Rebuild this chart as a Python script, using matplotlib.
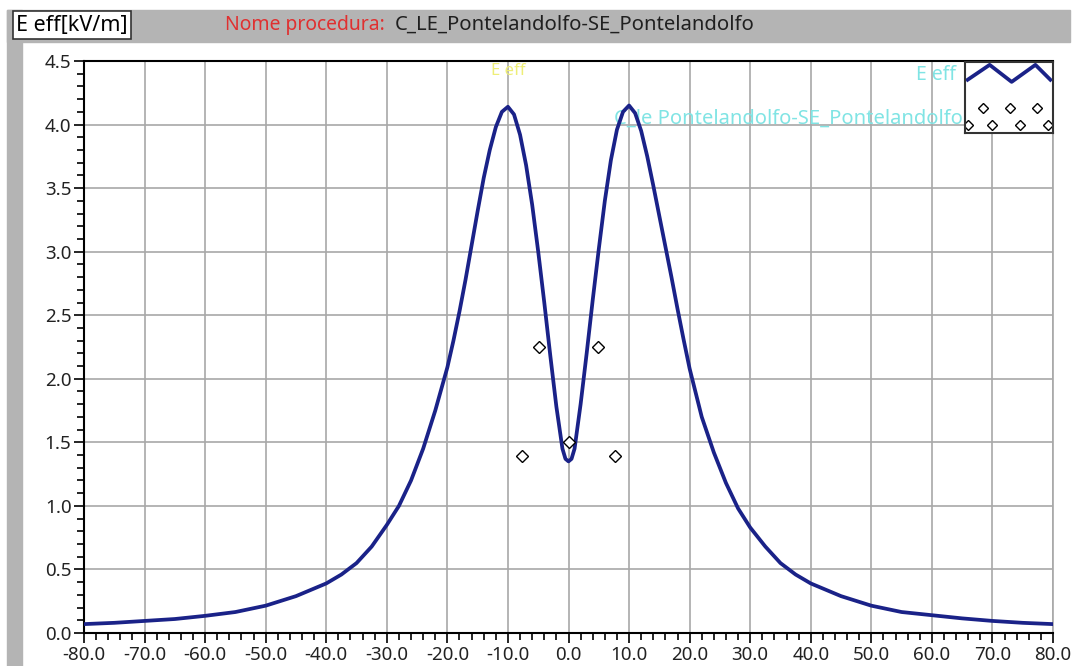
import matplotlib
matplotlib.use("Agg")
from matplotlib import pyplot as plt
from matplotlib.patches import Rectangle
from matplotlib.ticker import MultipleLocator, FormatStrFormatter

plt.rcParams['font.family'] = ['Noto Sans', 'DejaVu Sans']

# E eff curve (x in m, E in kV/m)
x_curve = [-80, -75, -70, -65, -60, -55, -50, -45, -40, -37.5, -35, -32.5, -30, -28, -26,
           -24, -22, -20, -19, -18, -17, -16, -15, -14, -13, -12, -11, -10, -9, -8, -7,
           -6, -5, -4, -3, -2, -1, -0.5, 0,
           0.5, 1, 2, 3, 4, 5, 6, 7, 8, 9, 10, 11, 12, 13, 14, 15, 16, 17, 18, 19, 20,
           22, 24, 26, 28, 30, 32.5, 35, 37.5, 40, 45, 50, 55, 60, 65, 70, 75, 80]
e_curve = [0.07, 0.08, 0.095, 0.11, 0.135, 0.165, 0.215, 0.29, 0.39, 0.46, 0.55, 0.68, 0.85, 1.00, 1.20,
           1.45, 1.75, 2.09, 2.30, 2.53, 2.78, 3.05, 3.32, 3.58, 3.80, 3.98, 4.10, 4.14, 4.08, 3.92, 3.68,
           3.37, 3.00, 2.60, 2.18, 1.78, 1.45, 1.37, 1.35,
           1.37, 1.45, 1.80, 2.20, 2.62, 3.02, 3.40, 3.72, 3.96, 4.10, 4.15, 4.09, 3.95, 3.75, 3.52, 3.28, 3.04, 2.80, 2.55, 2.31, 2.08,
           1.70, 1.42, 1.18, 0.98, 0.83, 0.68, 0.55, 0.46, 0.39, 0.29, 0.215, 0.165, 0.14, 0.115, 0.095, 0.08, 0.07]

# conductor positions (diamonds)
x_cond = [-7.7, -4.9, 0.0, 4.9, 7.7]
y_cond = [1.39, 2.25, 1.50, 2.25, 1.39]

# legend glyph samples (inset axes coords)
leg_zig_x = [0.03, 0.28, 0.53, 0.80, 0.97]
leg_zig_y = [0.75, 0.96, 0.72, 0.96, 0.75]
leg_dia_x = [0.20, 0.51, 0.82, 0.03, 0.31, 0.63, 0.94]
leg_dia_y = [0.35, 0.35, 0.35, 0.11, 0.11, 0.11, 0.11]

W, H = 1075, 666
fig = plt.figure(figsize=(W / 100, H / 100), dpi=100, facecolor='white')

# grey window frame
fig.patches.append(Rectangle((7 / W, 1 - 42 / H), (1070 - 7) / W, 32 / H,
                             transform=fig.transFigure, color='#b4b4b4', zorder=0))
fig.patches.append(Rectangle((7 / W, 0), 15 / W, 1 - 10 / H,
                             transform=fig.transFigure, color='#b4b4b4', zorder=0))

ax = fig.add_axes([84 / W, 1 - 633 / H, (1053 - 84) / W, (633 - 61) / H])
ax.plot(x_curve, e_curve, color='#1a2288', lw=2.7, zorder=3)
ax.plot(x_cond, y_cond, linestyle='none', marker='D', ms=6, mfc='white', mec='black',
        mew=1.0, zorder=4)

ax.set_xlim(-80, 80)
ax.set_ylim(0, 4.5)
ax.xaxis.set_major_locator(MultipleLocator(10))
ax.xaxis.set_minor_locator(MultipleLocator(2))
ax.yaxis.set_major_locator(MultipleLocator(0.5))
ax.yaxis.set_minor_locator(MultipleLocator(0.1))
ax.xaxis.set_major_formatter(FormatStrFormatter('%.1f'))
ax.yaxis.set_major_formatter(FormatStrFormatter('%.1f'))
ax.tick_params(which='major', length=7, width=1.2, labelsize=13.5, colors='black', pad=2)
ax.tick_params(which='minor', length=5, width=1.2)
ax.grid(True, which='major', color='#a8a8a8', lw=1.2)
ax.set_axisbelow(True)
for s in ['left', 'bottom', 'top']:
    ax.spines[s].set_color('black')
    ax.spines[s].set_linewidth(1.5)
ax.spines['right'].set_color('#a8a8a8')
ax.spines['right'].set_linewidth(1.2)
for lab in ax.get_xticklabels() + ax.get_yticklabels():
    lab.set_color('#222222')

# in-plot labels
ax.text(-10, 4.42, 'E eff', color='#eeee77', fontsize=12, ha='center', va='center')
ax.text(7.5, 4.05, 'C_le Pontelandolfo-SE_Pontelandolfo', color='#80e4e4', fontsize=14.5,
        ha='left', va='center', zorder=2)
ax.text(0.9, 0.975, 'E eff', color='#80e4e4', fontsize=14, ha='right', va='center',
        transform=ax.transAxes)

# legend box
lax = fig.add_axes([965 / W, 1 - 133 / H, 88 / W, 71 / H])
lax.plot(leg_zig_x, leg_zig_y, color='#1a2288', lw=2.7)
lax.plot(leg_dia_x, leg_dia_y, linestyle='none', marker='D', ms=5, mfc='white', mec='black', mew=1.0)
lax.set_xlim(0, 1)
lax.set_ylim(0, 1)
lax.set_xticks([])
lax.set_yticks([])
lax.set_facecolor('white')
for s in lax.spines.values():
    s.set_color('#333333')
    s.set_linewidth(1.5)

# header
fig.text(16 / W, 1 - 25 / H, 'E eff[kV/m]', fontsize=15.5, ha='left', va='center', color='black',
         bbox=dict(boxstyle='square,pad=0.15', fc='white', ec='#333333', lw=1.2))
fig.text(225 / W, 1 - 25 / H, 'Nome procedura:', fontsize=13.9, ha='left', va='center', color='#e03030')
fig.text(395 / W, 1 - 25 / H, 'C_LE_Pontelandolfo-SE_Pontelandolfo', fontsize=14.6, ha='left',
         va='center', color='#202020')

fig.savefig('out.png', dpi=100, facecolor=fig.get_facecolor())
